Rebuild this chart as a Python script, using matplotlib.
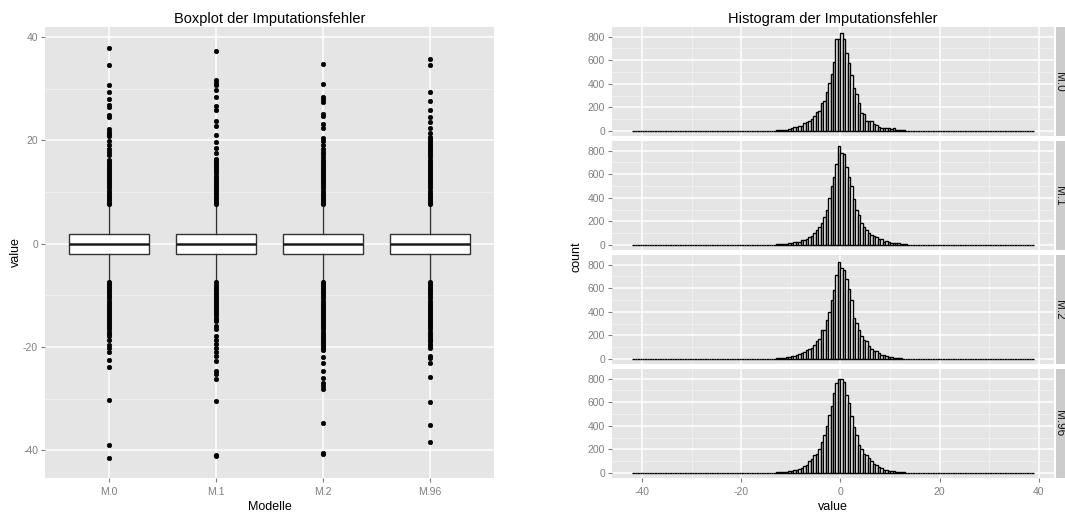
import numpy as np
import matplotlib
matplotlib.use("Agg")
import matplotlib.pyplot as plt

plt.rcParams['font.family'] = ['Liberation Sans', 'DejaVu Sans']
plt.rcParams['axes.unicode_minus'] = False

# ---------------- data ----------------
models = ["M.0", "M.1", "M.2", "M.96"]

box_q1 = [-2.0, -2.0, -2.0, -2.0]
box_med = [0.0, 0.0, 0.0, 0.0]
box_q3 = [1.9, 1.9, 1.9, 1.9]
whisker_lo = [-7.2, -7.3, -7.2, -7.2]
whisker_hi = [7.5, 7.5, 7.5, 7.5]

outliers_m0 = [38.0, 34.6, 30.7, 29.3, 28.0, 26.8, 26.5, 24.9, 24.6, 22.3, 21.7, 21.2, 20.8,
               19.8, 19.1, 18.4, 17.8, 17.2,
               16.3, 15.9, 15.5, 15.1, 14.7, 14.3, 13.9, 13.5, 13.1, 12.7, 12.3, 11.9, 11.5,
               11.1, 10.7, 10.3, 9.9, 9.5, 9.1, 8.7, 8.3, 7.9, 7.7,
               -7.4, -7.8, -8.2, -8.6, -9.0, -9.4, -9.8, -10.2, -10.6, -11.0, -11.4, -11.8,
               -12.2, -12.6, -13.0, -13.4, -13.8, -14.2, -14.6, -15.0, -15.4, -15.8, -16.2,
               -16.6, -17.0, -17.4, -17.8,
               -18.7, -19.6, -20.2, -21.0, -22.6, -23.8, -30.3, -39.0, -41.4]
outliers_m1 = [37.4, 31.7, 31.2, 30.7, 29.8, 28.4, 26.7, 25.9, 23.8, 22.8, 21.1, 19.7, 18.5, 17.5,
               16.4, 16.0, 15.6, 15.2, 14.8, 14.4, 14.0, 13.6, 13.2, 12.8, 12.4, 12.0, 11.6,
               11.2, 10.8, 10.4, 10.0, 9.6, 9.2, 8.8, 8.4, 8.0, 7.7,
               -7.5, -7.9, -8.3, -8.7, -9.1, -9.5, -9.9, -10.3, -10.7, -11.1, -11.5, -11.9,
               -12.3, -12.7, -13.1, -13.5, -13.9, -14.3, -14.7, -15.0,
               -16.0, -16.6, -17.8, -18.6, -19.4, -20.2, -21.0, -21.8, -22.7, -24.7, -25.3,
               -26.2, -30.4, -41.0, -41.2]
outliers_m2 = [34.9, 31.0, 28.5, 28.1, 27.5, 25.1, 24.8, 23.2, 22.5, 20.4, 19.8, 19.1, 18.4,
               17.8, 17.4,
               16.7, 16.3, 15.9, 15.5, 15.1, 14.7, 14.3, 13.9, 13.5, 13.1, 12.7, 12.3, 11.9,
               11.5, 11.1, 10.7, 10.3, 9.9, 9.5, 9.1, 8.7, 8.3, 7.9, 7.7,
               -7.4, -7.8, -8.2, -8.6, -9.0, -9.4, -9.8, -10.2, -10.6, -11.0, -11.4, -11.8,
               -12.2, -12.6, -13.0, -13.4, -13.8, -14.2, -14.6, -15.0, -15.4, -15.8, -16.2,
               -16.6, -17.0, -17.4, -17.8, -18.2, -18.6, -19.0, -19.4, -19.8, -20.2, -20.5,
               -21.9, -23.1, -24.7, -26.0, -27.0, -27.5, -28.2, -34.8, -40.6, -40.8]
outliers_m96 = [35.7, 34.7, 29.3, 27.6, 25.9, 24.6, 23.5, 22.4, 21.4, 20.7,
                20.3, 19.9, 19.5, 19.1, 18.7, 18.3, 17.9, 17.5, 17.1, 16.7, 16.3, 15.9, 15.5,
                15.1, 14.7, 14.3, 13.9, 13.5, 13.1, 12.7, 12.3, 11.9, 11.5, 11.1, 10.7, 10.3,
                9.9, 9.5, 9.1, 8.7, 8.3, 7.9, 7.7,
                -7.4, -7.8, -8.2, -8.6, -9.0, -9.4, -9.8, -10.2, -10.6, -11.0, -11.4, -11.8,
                -12.2, -12.6, -13.0, -13.4, -13.8, -14.2, -14.6, -15.0, -15.4, -15.8, -16.2,
                -16.6, -17.0, -17.4, -17.8, -18.2, -18.6, -18.9,
                -19.5, -19.9, -20.2, -21.7, -22.2, -23.1, -25.9, -30.7, -35.2, -38.4]
outliers = [outliers_m0, outliers_m1, outliers_m2, outliers_m96]

# histogram: bin width 0.5, bins from -42 to 39
bin_start = -42.0
bin_stop = 39.0
bin_width = 0.5
# counts of the central bins, left edges -12.0, -11.5, ..., 11.5
center_start = -12.0
center_m0 = [11, 11, 11, 17, 28, 34, 34, 40, 40, 68, 77, 85, 100, 130, 162, 170, 241, 255, 332, 403,
             480, 587, 777, 777,
             834, 777, 664, 573, 474, 366, 312, 241, 153, 147, 85, 85, 85, 57, 48, 34, 28, 23,
             28, 23, 17, 23, 11, 11]
center_m1 = [10, 10, 12, 14, 20, 22, 28, 30, 40, 45, 55, 70, 75, 100, 125, 150, 185, 240, 300, 395,
             500, 580, 690, 839,
             778, 770, 659, 576, 501, 391, 299, 252, 188, 152, 125, 100, 86, 75, 69, 55, 50, 30,
             36, 22, 19, 19, 14, 14]
center_m2 = [11, 11, 17, 17, 22, 28, 33, 39, 50, 61, 75, 81, 95, 123, 150, 173, 243, 248, 331, 401,
             499, 582, 713, 824,
             769, 758, 674, 591, 499, 351, 309, 248, 192, 164, 150, 109, 81, 72, 67, 53, 33, 31,
             22, 17, 17, 11, 11, 11]
center_m96 = [8, 10, 12, 18, 20, 22, 30, 35, 45, 60, 70, 100, 120, 155, 160, 200, 260, 320, 400, 490,
              570, 680, 760, 795,
              795, 773, 662, 590, 480, 390, 320, 240, 200, 160, 155, 130, 100, 80, 70, 50, 40, 30,
              22, 20, 18, 15, 12, 10]
tails_m0 = {-19.5: 4, -17.5: 2, -17.0: 2, -16.5: 3, -16.0: 2, -15.5: 2, -14.5: 3, -14.0: 3,
            -13.5: 4, -13.0: 5, -12.5: 6, 12.0: 8, 12.5: 5, 13.0: 4, 13.5: 3, 14.0: 3, 14.5: 2,
            15.0: 3, 17.0: 4}
tails_m1 = {-20.5: 3, -18.5: 3, -18.0: 3, -17.5: 2, -16.0: 3, -15.0: 3, -14.5: 3, -14.0: 4,
            -13.5: 4, -13.0: 5, -12.5: 6, 12.0: 6, 12.5: 5, 13.0: 5, 13.5: 4, 14.0: 4, 14.5: 3,
            15.0: 3, 15.5: 3, 16.0: 3}
tails_m2 = {-41.0: 3, -27.5: 3, -23.5: 3, -21.0: 3, -20.0: 3, -18.5: 3, -18.0: 2, -17.5: 2,
            -17.0: 3, -15.0: 2, -14.5: 3, -14.0: 3, -13.5: 4, -13.0: 5, -12.5: 7, 12.0: 6,
            12.5: 4, 13.0: 3, 13.5: 3, 14.0: 3, 14.5: 2, 15.0: 2, 15.5: 3, 16.0: 2, 17.5: 3,
            24.5: 3, 28.0: 3}
tails_m96 = {-38.5: 3, -35.5: 3, -35.0: 3, -31.0: 3, -26.5: 3, -26.0: 3, -23.5: 3, -22.5: 3,
             -22.0: 3, -21.0: 2, -20.5: 2, -20.0: 2, -19.5: 1, -19.0: 2, -18.5: 2, -18.0: 1,
             -17.5: 2, -17.0: 2, -16.5: 2, -16.0: 2, -15.5: 2, -15.0: 3, -14.5: 2, -14.0: 3,
             -13.5: 3, -13.0: 5, -12.5: 6, 12.0: 6, 12.5: 5, 13.0: 3, 13.5: 2, 14.0: 2,
             14.5: 2, 15.0: 2, 15.5: 2, 16.0: 1, 16.5: 2, 17.0: 1, 17.5: 2, 18.0: 1, 18.5: 2,
             22.0: 3, 22.5: 3, 23.0: 3, 24.0: 3, 25.5: 3, 27.0: 3, 29.0: 3, 34.5: 3, 35.0: 3}
centers = [center_m0, center_m1, center_m2, center_m96]
tails = [tails_m0, tails_m1, tails_m2, tails_m96]

# ---------------- styling ----------------
W, H = 1065, 513
PANEL = "#E5E5E5"
MINOR = "#F2F2F2"
TICKC = "#7F7F7F"
TICK_FS = 7.5
LAB_FS = 9
TITLE_FS = 10.5

fig = plt.figure(figsize=(W / 100, H / 100), dpi=100)
fig.patch.set_facecolor("white")


def px_axes(x0, y0, x1, y1):
    return fig.add_axes([x0 / W, 1 - y1 / H, (x1 - x0) / W, (y1 - y0) / H])


def style(ax):
    ax.set_facecolor(PANEL)
    for s in ax.spines.values():
        s.set_visible(False)
    ax.tick_params(axis="both", which="major", colors=TICKC, labelsize=TICK_FS,
                   length=3, width=0.8, pad=2)
    ax.tick_params(axis="x", which="major", pad=3.5)
    ax.tick_params(axis="both", which="minor", length=0)
    ax.set_axisbelow(True)
    ax.grid(True, which="minor", color=MINOR, linewidth=0.6)
    ax.grid(True, which="major", color="white", linewidth=1.1)


# ---------------- boxplot ----------------
axb = px_axes(45, 27, 494, 478)
style(axb)
stats = []
for i, m in enumerate(models):
    stats.append(dict(label=m, med=box_med[i], q1=box_q1[i], q3=box_q3[i],
                      whislo=whisker_lo[i], whishi=whisker_hi[i], fliers=outliers[i]))
axb.bxp(stats, positions=np.arange(1, len(models) + 1), widths=0.75, patch_artist=True,
        showcaps=False,
        boxprops=dict(facecolor="white", edgecolor="#333333", linewidth=1.0),
        medianprops=dict(color="#1a1a1a", linewidth=1.8),
        whiskerprops=dict(color="#333333", linewidth=1.0),
        flierprops=dict(marker="o", markerfacecolor="black", markeredgecolor="black",
                        markersize=3.3, markeredgewidth=0.4, linestyle="none"))
all_vals = [v for lst in outliers for v in lst]
lo, hi = min(all_vals), max(all_vals)
pad = (hi - lo) * 0.05
axb.set_ylim(lo - pad, hi + pad)
axb.set_xlim(0.4, len(models) + 0.6)
axb.set_yticks([-40, -20, 0, 20, 40])
axb.set_yticks([-30, -10, 10, 30], minor=True)
axb.set_xticks(np.arange(1, len(models) + 1))
axb.set_xticklabels(models)
axb.set_xlabel("Modelle", fontsize=LAB_FS, labelpad=3)
axb.set_ylabel("value", fontsize=LAB_FS, labelpad=1)
axb.set_title("Boxplot der Imputationsfehler", fontsize=TITLE_FS, pad=3)

# ---------------- histograms ----------------
n_bins = int(round((bin_stop - bin_start) / bin_width))
edges = bin_start + bin_width * np.arange(n_bins)
tops = [27, 141, 255, 369]
panel_h = 109
ymax = max(max(c) for c in centers)
ypad = ymax * 0.05
hist_axes = []
for k, m in enumerate(models):
    counts = np.zeros(n_bins)
    for j, c in enumerate(centers[k]):
        idx = int(round((center_start + j * bin_width - bin_start) / bin_width))
        counts[idx] = c
    for left, c in tails[k].items():
        idx = int(round((left - bin_start) / bin_width))
        counts[idx] = c
    ax = px_axes(612, tops[k], 1054, tops[k] + panel_h)
    style(ax)
    ax.bar(edges, counts, width=bin_width, align="edge", color="white",
           edgecolor="black", linewidth=1.0)
    rng = bin_stop - bin_start
    ax.set_xlim(bin_start - 0.05 * rng, bin_stop + 0.05 * rng)
    ax.set_ylim(-ypad, ymax + ypad)
    ax.set_yticks([0, 200, 400, 600, 800])
    ax.set_yticks([100, 300, 500, 700], minor=True)
    ax.set_xticks([-40, -20, 0, 20, 40])
    ax.set_xticks([-30, -10, 10, 30], minor=True)
    if k < 3:
        ax.tick_params(axis="x", which="major", labelbottom=False, length=0)
    hist_axes.append(ax)
    # strip on the right
    sax = px_axes(1056, tops[k], 1078, tops[k] + panel_h)
    sax.set_facecolor("#CCCCCC")
    sax.set_xticks([])
    sax.set_yticks([])
    for s in sax.spines.values():
        s.set_visible(False)
    fig.text(1059 / W, 1 - (tops[k] + panel_h / 2) / H, m, rotation=-90,
             ha="center", va="center", fontsize=8.5, color="#1a1a1a")

hist_axes[-1].set_xlabel("value", fontsize=LAB_FS, labelpad=3)
hist_axes[0].set_title("Histogram der Imputationsfehler", fontsize=TITLE_FS, pad=3)
fig.text(577 / W, 1 - 257 / H, "count", rotation=90, ha="center", va="center",
         fontsize=LAB_FS)

fig.savefig("out.png", dpi=100, facecolor="white")
